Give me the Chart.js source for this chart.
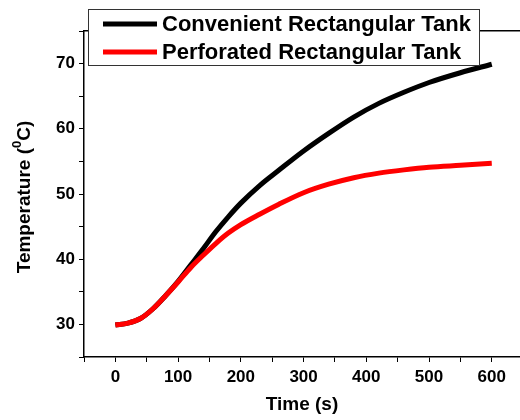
<!DOCTYPE html>
<html>
<head>
<meta charset="utf-8">
<title>Temperature vs time</title>
<script src="https://cdn.jsdelivr.net/npm/chart.js@4/dist/chart.umd.min.js"></script>
<style>
  html, body { margin: 0; padding: 0; background: #fff; }
  #wrap { width: 520px; height: 420px; }
</style>
</head>
<body>
<div id="wrap"><canvas id="tempChart" width="520" height="420"></canvas></div>
<script>
// Time samples (s) and measured water temperature (degC) for both tanks
const timeSec = [0, 20, 40, 60, 80, 100, 120, 140, 160, 180, 200, 230, 260, 300, 340, 380, 420, 460, 500, 550, 600];
const conventionalTemp = [29.9, 30.2, 30.9, 32.4, 34.4, 36.6, 39.1, 41.6, 44.2, 46.5, 48.6, 51.3, 53.6, 56.6, 59.3, 61.8, 63.9, 65.6, 67.1, 68.6, 69.9];
const perforatedTemp = [29.9, 30.2, 30.9, 32.4, 34.4, 36.5, 38.7, 40.6, 42.4, 44.0, 45.3, 46.9, 48.4, 50.2, 51.5, 52.5, 53.2, 53.7, 54.1, 54.4, 54.7];
const seriesNames = ['Convenient Rectangular Tank', 'Perforated Rectangular Tank'];
const xTicks = [0, 100, 200, 300, 400, 500, 600];
const yTicks = [30, 40, 50, 60, 70];

const FONT = 'Arial, "Liberation Sans", sans-serif';

function toPoints(xs, ys) {
    return xs.map((x, i) => ({ x: x, y: ys[i] }));
}

// Boxed legend sitting over the top of the plot frame
const boxLegend = {
    id: 'boxLegend',
    afterDraw(chart) {
        const ctx = chart.ctx;
        const x0 = 88, y0 = 9, w = 391, h = 56;
        ctx.save();
        ctx.fillStyle = '#fff';
        ctx.fillRect(x0, y0, w, h);
        ctx.strokeStyle = '#333';
        ctx.lineWidth = 1;
        ctx.strokeRect(x0 + 0.5, y0 + 0.5, w, h);
        ctx.font = 'bold 22px ' + FONT;
        ctx.textBaseline = 'middle';
        ctx.fillStyle = '#000';
        chart.data.datasets.forEach((ds, i) => {
            const y = 24 + i * 28;
            ctx.strokeStyle = ds.borderColor;
            ctx.lineWidth = 5;
            ctx.beginPath();
            ctx.moveTo(103, y);
            ctx.lineTo(157, y);
            ctx.stroke();
            ctx.fillText(ds.label, 162, y + 1);
        });
        ctx.restore();
    }
};

// Rotated y title with a superscript zero
const yTitle = {
    id: 'yTitle',
    afterDraw(chart) {
        const ctx = chart.ctx;
        const a = chart.chartArea;
        const main = 'bold 19px ' + FONT;
        const sup = 'bold 13px ' + FONT;
        const parts = ['Temperature (', '0', 'C)'];
        ctx.save();
        ctx.font = main;
        const w1 = ctx.measureText(parts[0]).width;
        const w3 = ctx.measureText(parts[2]).width;
        ctx.font = sup;
        const w2 = ctx.measureText(parts[1]).width;
        const total = w1 + w2 + w3;
        ctx.translate(25, (a.top + a.bottom) / 2 + 3);
        ctx.rotate(-Math.PI / 2);
        ctx.fillStyle = '#000';
        ctx.textBaseline = 'middle';
        let x = -total / 2;
        ctx.font = main;
        ctx.fillText(parts[0], x, 0);
        x += w1;
        ctx.font = sup;
        ctx.fillText(parts[1], x, -8);
        x += w2;
        ctx.font = main;
        ctx.fillText(parts[2], x, 0);
        ctx.restore();
    }
};

const ctx = document.getElementById('tempChart').getContext('2d');
const chart = new Chart(ctx, {
    type: 'line',
    data: {
        datasets: [
            {
                label: seriesNames[0],
                data: toPoints(timeSec, conventionalTemp),
                borderColor: '#000',
                borderWidth: 5,
                pointRadius: 0,
                cubicInterpolationMode: 'monotone',
                order: 1
            },
            {
                label: seriesNames[1],
                data: toPoints(timeSec, perforatedTemp),
                borderColor: '#ff0000',
                borderWidth: 5,
                pointRadius: 0,
                cubicInterpolationMode: 'monotone',
                order: 0
            }
        ]
    },
    options: {
        responsive: false,
        animation: false,
        layout: { padding: { top: 31, right: 0, left: 0, bottom: 0 } },
        plugins: {
            legend: { display: false },
            tooltip: { enabled: false },
            title: { display: false }
        },
        scales: {
            x: {
                type: 'linear',
                min: -50,
                max: 645,
                afterBuildTicks: s => { s.ticks = s.ticks.filter(t => t.value % 50 === 0); },
                afterFit: s => { s.height = 63; },
                ticks: {
                    stepSize: 50,
                    includeBounds: false,
                    autoSkip: false,
                    maxRotation: 0,
                    padding: 5,
                    color: '#000',
                    font: { family: FONT, size: 17, weight: 'bold' },
                    callback: v => (xTicks.includes(v) ? String(v) : '')
                },
                grid: { display: true, drawOnChartArea: false, tickLength: 5, tickColor: '#000', tickWidth: 1 },
                border: { display: true, color: '#000', width: 1.5 },
                title: {
                    display: true,
                    text: 'Time (s)',
                    color: '#000',
                    font: { family: FONT, size: 19, weight: 'bold' },
                    padding: { top: 4 }
                }
            },
            xTop: {
                type: 'linear',
                position: 'top',
                min: -50,
                max: 645,
                afterFit: s => { s.height = 0; },
                ticks: { display: false },
                grid: { display: false },
                border: { display: true, color: '#000', width: 1.5 }
            },
            y: {
                min: 25,
                max: 75,
                afterFit: s => { s.width = 84; },
                ticks: {
                    stepSize: 5,
                    autoSkip: false,
                    padding: 4,
                    color: '#000',
                    font: { family: FONT, size: 17, weight: 'bold' },
                    callback: v => (yTicks.includes(v) ? String(v) : '')
                },
                grid: { display: true, drawOnChartArea: false, tickLength: 5, tickColor: '#000', tickWidth: 1 },
                border: { display: true, color: '#000', width: 1.5 },
                title: { display: false }
            }
        }
    },
    plugins: [yTitle, boxLegend]
});
</script>
</body>
</html>
